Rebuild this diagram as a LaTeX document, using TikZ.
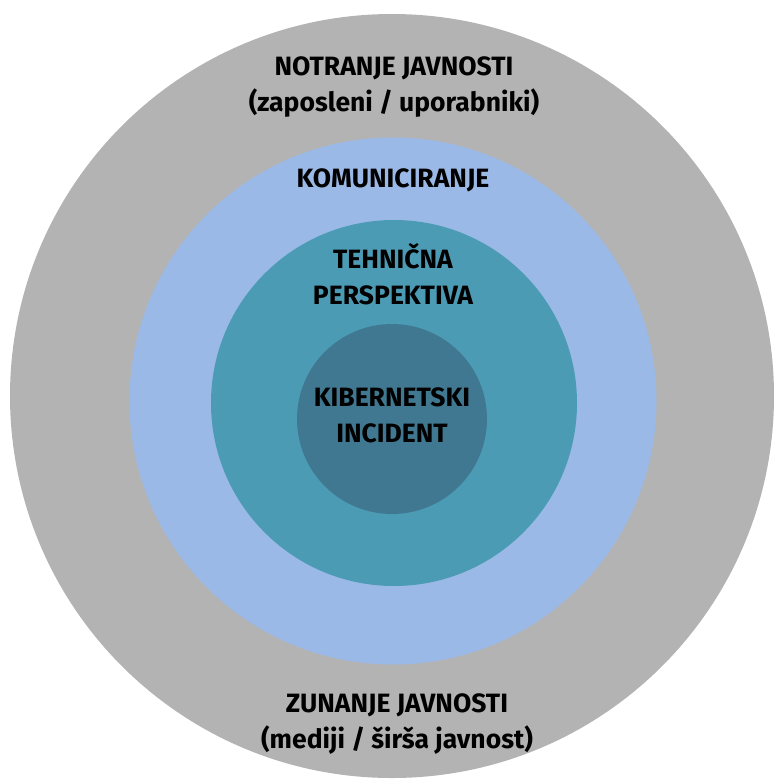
\documentclass[tikz,border=0pt]{standalone}
\usepackage{fontspec}
\setmainfont{Fira Sans}
\definecolor{grisext}{RGB}{179,179,179}
\definecolor{azulclaro}{RGB}{155,185,230}
\definecolor{turquesa}{RGB}{76,155,181}
\definecolor{azuloscuro}{RGB}{64,120,145}
\tikzset{
    anillo/.style={circle, inner sep=0pt, draw=none},
    texto/.style={align=center, font=\bfseries\fontsize{26.5}{36}\selectfont, text=black}
}
\begin{document}
\begin{tikzpicture}[x=1pt, y=-1pt]
    \useasboundingbox (0,0) rectangle (774,780);
    % Círculos concéntricos
    \node[anillo, fill=grisext, minimum size=764] (externo) at (392,396) {};
    \node[anillo, fill=azulclaro, minimum size=527] (comunicacion) at (393,401) {};
    \node[anillo, fill=turquesa, minimum size=366] (tecnica) at (394,403) {};
    \node[anillo, fill=azuloscuro, minimum size=190] (incidente) at (392,419) {};

    % Textos
    \node[texto] (notranje) at (394,87) {NOTRANJE JAVNOSTI\\(zaposleni / uporabniki)};
    \node[texto] (komuniciranje) at (393,180) {KOMUNICIRANJE};
    \node[texto] (tehnicna) at (393,274) {TEHNIČNA\\PERSPEKTIVA};
    \node[texto] (kibernetski) at (392,415) {KIBERNETSKI\\INCIDENT};
    \node[texto] (zunanje) at (397,724) {ZUNANJE JAVNOSTI\\(mediji / širša javnost)};
\end{tikzpicture}
\end{document}
